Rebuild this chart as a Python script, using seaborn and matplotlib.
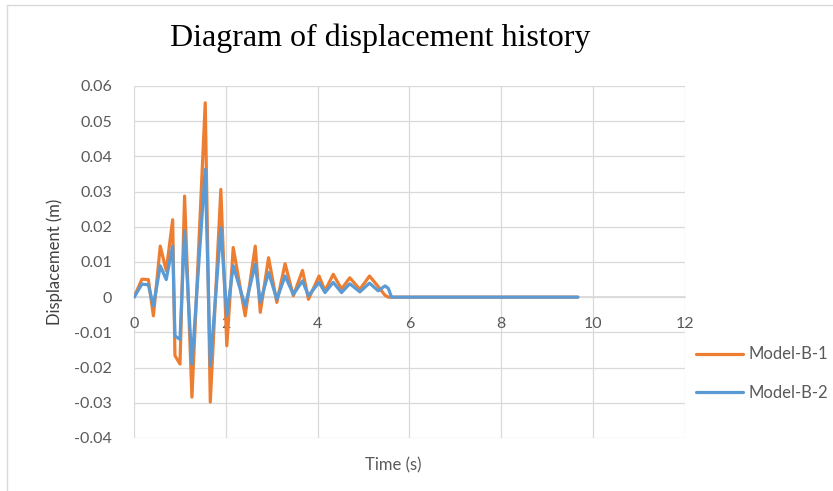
import numpy as np
import pandas as pd
import matplotlib
matplotlib.use("Agg")
import matplotlib.pyplot as plt
import seaborn as sns

# ---- data ----
time_s = [0, 0.17, 0.31, 0.42, 0.57, 0.70, 0.84, 0.89, 1.00, 1.10, 1.26, 1.55, 1.66,
          1.89, 2.02, 2.16, 2.42, 2.64, 2.75, 2.93, 3.11, 3.29, 3.47, 3.67, 3.80,
          4.03, 4.16, 4.34, 4.52, 4.70, 4.92, 5.13, 5.32, 5.47, 5.54, 5.61, 9.67]
model_b1 = [0, 0.0051, 0.005, -0.0053, 0.0145, 0.0075, 0.022, -0.0166, -0.019, 0.0287,
            -0.0284, 0.0552, -0.0298, 0.0306, -0.0138, 0.0141, -0.0053, 0.0145, -0.0043,
            0.0112, -0.0015, 0.0095, 0.0004, 0.0076, -0.0006, 0.006, 0.0018, 0.0065,
            0.0023, 0.0055, 0.0022, 0.006, 0.003, 0.0005, 0, 0, 0]
model_b2 = [0, 0.0037, 0.0035, -0.0025, 0.0089, 0.005, 0.0145, -0.011, -0.012, 0.0188,
            -0.019, 0.0363, -0.0195, 0.0197, -0.0053, 0.0089, -0.0025, 0.0093, -0.0015,
            0.007, -0.0006, 0.006, 0.0008, 0.0046, 0.0004, 0.0042, 0.0013, 0.0042,
            0.0013, 0.0038, 0.0015, 0.004, 0.0018, 0.0032, 0.0025, 0, 0]
series_names = ["Model-B-1", "Model-B-2"]
x_ticks = [0, 2, 4, 6, 8, 10, 12]
y_ticks = [-0.04, -0.03, -0.02, -0.01, 0, 0.01, 0.02, 0.03, 0.04, 0.05, 0.06]
y_tick_labels = ["-0.04", "-0.03", "-0.02", "-0.01", "0", "0.01", "0.02", "0.03",
                 "0.04", "0.05", "0.06"]

df = pd.concat([
    pd.DataFrame({"Time": time_s, "Disp": model_b1, "Series": series_names[0]}),
    pd.DataFrame({"Time": time_s, "Disp": model_b2, "Series": series_names[1]}),
], ignore_index=True)

sns.set_theme(style="white")
plt.rcParams["font.family"] = ["Lato", "DejaVu Sans"]

fig = plt.figure(figsize=(8.33, 4.91), dpi=100)
ax = fig.add_axes([0.161, 0.108, 0.661, 0.717])

palette = {"Model-B-1": "#ED7D31", "Model-B-2": "#5B9BD5"}
sns.lineplot(data=df, x="Time", y="Disp", hue="Series", palette=palette,
             linewidth=2.3, ax=ax, sort=False, estimator=None, legend=False)

ax.set_xlim(0, 12)
ax.set_ylim(-0.04, 0.06)
ax.set_xticks(x_ticks)
ax.set_xticklabels([str(t) for t in x_ticks])
ax.set_yticks(y_ticks)
ax.set_yticklabels(y_tick_labels)
ax.grid(True, color="#d9d9d9", linewidth=0.9)
ax.set_axisbelow(True)

for s in ["top", "right", "left"]:
    ax.spines[s].set_visible(False)
ax.spines["bottom"].set_position(("data", 0))
ax.spines["bottom"].set_color("#d9d9d9")
ax.spines["bottom"].set_zorder(0.5)

ax.tick_params(axis="both", length=0, colors="#595959", labelsize=11.5)
ax.tick_params(axis="x", pad=14)
ax.tick_params(axis="y", pad=16)

ax.set_xlabel("Time (s)", fontsize=12, color="#595959", labelpad=0)
ax.xaxis.set_label_coords(0.47, -0.055)
ax.set_ylabel("Displacement (m)", fontsize=12, color="#404040", labelpad=8)

fig.text(0.456, 0.922, "Diagram of displacement history", fontsize=23,
         family=["Liberation Serif", "DejaVu Serif"], ha="center", va="center",
         color="#000000")

handles = [plt.Line2D([], [], color=palette[n], lw=2.3) for n in series_names]
fig.legend(handles, series_names, loc="upper left", bbox_to_anchor=(0.818, 0.325),
           frameon=False, fontsize=12, labelcolor="#595959", handlelength=2.8,
           handletextpad=0.3, labelspacing=1.35)

# light outer border like the reference
fig.add_artist(plt.Line2D([0.008, 0.008], [0.0, 0.99], transform=fig.transFigure,
                          color="#d9d9d9", lw=1))
fig.add_artist(plt.Line2D([0.008, 1.0], [0.99, 0.99], transform=fig.transFigure,
                          color="#d9d9d9", lw=1))

fig.savefig("out.png", dpi=100)
